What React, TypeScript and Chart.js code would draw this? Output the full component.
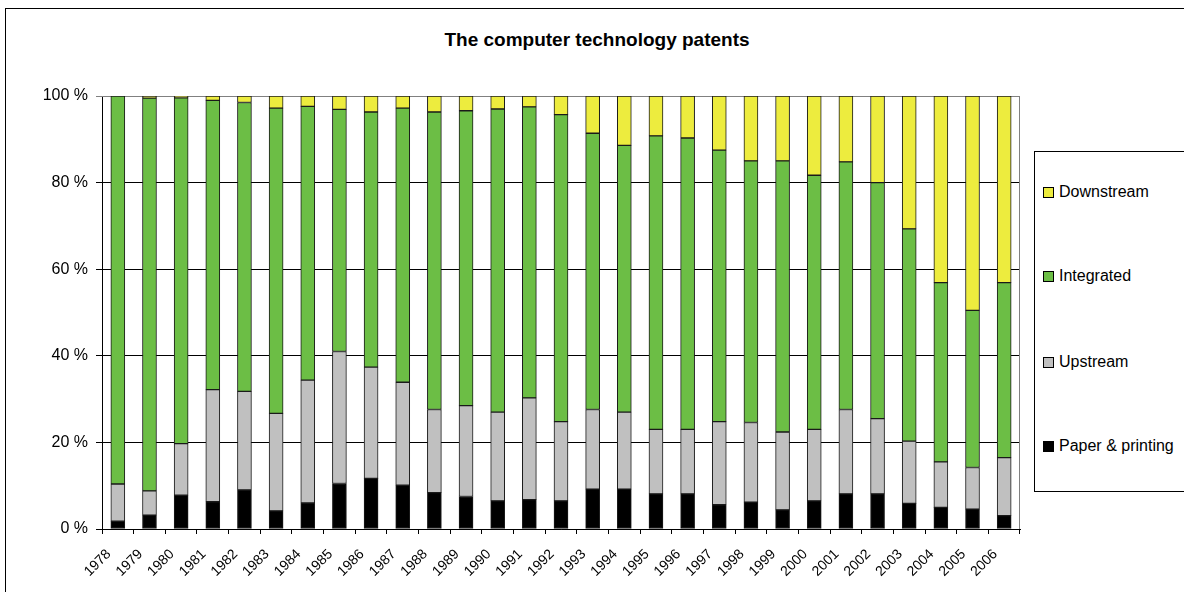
import React, { useEffect, useRef } from "react";
import { Chart, registerables } from "chart.js";

Chart.register(...registerables);

const years = [
  "1978", "1979", "1980", "1981", "1982", "1983", "1984", "1985", "1986", "1987",
  "1988", "1989", "1990", "1991", "1992", "1993", "1994", "1995", "1996", "1997",
  "1998", "1999", "2000", "2001", "2002", "2003", "2004", "2005", "2006",
];

const paperPrinting = [
  1.8, 3.2, 7.8, 6.3, 9.0, 4.2, 6.0, 10.5, 11.7, 10.1,
  8.4, 7.5, 6.5, 6.8, 6.5, 9.2, 9.2, 8.1, 8.1, 5.6,
  6.2, 4.4, 6.5, 8.1, 8.1, 5.9, 5.0, 4.6, 3.1,
];

const upstream = [
  8.6, 5.6, 11.9, 25.9, 22.8, 22.5, 28.4, 30.5, 25.7, 23.8,
  19.2, 21.0, 20.5, 23.5, 18.3, 18.4, 17.8, 14.9, 14.9, 19.2,
  18.4, 18.0, 16.5, 19.5, 17.4, 14.4, 10.5, 9.6, 13.4,
];

const integrated = [
  89.6, 90.7, 79.9, 66.8, 66.7, 70.5, 63.2, 55.9, 58.9, 63.3,
  68.7, 68.1, 70.0, 67.2, 70.9, 63.8, 61.6, 67.8, 67.3, 62.7,
  60.4, 62.6, 58.7, 57.2, 54.5, 49.0, 41.4, 36.3, 40.4,
];

const downstream = [
  0, 0.5, 0.4, 1.0, 1.5, 2.8, 2.4, 3.1, 3.7, 2.8,
  3.7, 3.4, 3.0, 2.5, 4.3, 8.6, 11.4, 9.2, 9.7, 12.5,
  15.0, 15.0, 18.3, 15.2, 20.0, 30.7, 43.1, 49.5, 43.1,
];

const yTicks = [0, 20, 40, 60, 80, 100];

const COLORS = {
  paper: "#000000",
  upstream: "#C0C0C0",
  integrated: "#6CBE45",
  downstream: "#EDEC3E",
};

const FONT = "'Liberation Sans', Arial, sans-serif";

const legendItems = [
  { label: "Downstream", color: COLORS.downstream, top: 192 },
  { label: "Integrated", color: COLORS.integrated, top: 276 },
  { label: "Upstream", color: COLORS.upstream, top: 362 },
  { label: "Paper & printing", color: COLORS.paper, top: 446 },
];

const plotBorder = {
  id: "plotBorder",
  beforeDatasetsDraw(chart: any) {
    const { ctx, chartArea } = chart;
    ctx.save();
    ctx.strokeStyle = "#808080";
    ctx.lineWidth = 1;
    ctx.beginPath();
    ctx.moveTo(chartArea.left, chartArea.top + 0.5);
    ctx.lineTo(chartArea.right - 0.5, chartArea.top + 0.5);
    ctx.lineTo(chartArea.right - 0.5, chartArea.bottom);
    ctx.stroke();
    ctx.restore();
  },
};

export default function App() {
  const canvasRef = useRef<HTMLCanvasElement | null>(null);

  useEffect(() => {
    if (!canvasRef.current) return;
    const mk = (label: string, data: number[], color: string) => ({
      label,
      data,
      backgroundColor: color,
      borderColor: "#1a1a1a",
      borderWidth: 1,
      borderSkipped: false,
      barThickness: 14,
    });
    const chart = new Chart(canvasRef.current, {
      type: "bar",
      data: {
        labels: years,
        datasets: [
          mk("Paper & printing", paperPrinting, COLORS.paper),
          mk("Upstream", upstream, COLORS.upstream),
          mk("Integrated", integrated, COLORS.integrated),
          mk("Downstream", downstream, COLORS.downstream),
        ],
      },
      options: {
        animation: false,
        responsive: true,
        maintainAspectRatio: false,
        layout: { padding: { left: 0, right: 10, top: 96, bottom: 0 } },
        plugins: {
          legend: { display: false },
          tooltip: { enabled: false },
          title: { display: false },
        },
        scales: {
          x: {
            stacked: true,
            afterFit: (scale: any) => {
              scale.height = 63;
            },
            grid: {
              offset: true,
              drawOnChartArea: false,
              drawTicks: true,
              tickLength: 5,
              color: "#000",
            },
            border: { color: "#000", width: 1 },
            ticks: {
              color: "#000",
              font: { family: FONT, size: 14 },
              minRotation: 45,
              maxRotation: 45,
              autoSkip: false,
              padding: 12,
              labelOffset: -9,
            },
          },
          y: {
            stacked: true,
            min: 0,
            max: 100,
            afterFit: (scale: any) => {
              scale.width = 102;
            },
            afterBuildTicks: (scale: any) => {
              scale.ticks = yTicks.map((v) => ({ value: v }));
            },
            grid: {
              color: (ctx: any) => (ctx.tick && ctx.tick.value === 100 ? "#808080" : "#000"),
              tickLength: 6,
              drawTicks: true,
            },
            border: { color: "#000", width: 1 },
            ticks: {
              color: "#000",
              font: { family: FONT, size: 16 },
              padding: 8,
              callback: (v: any) => `${v} %`,
            },
          },
        },
      },
      plugins: [plotBorder],
    });
    return () => chart.destroy();
  }, []);

  return (
    <div
      style={{
        position: "fixed",
        left: 0,
        top: 0,
        width: 1184,
        height: 592,
        overflow: "hidden",
        background: "#fff",
        fontFamily: FONT,
      }}
    >
      <div
        style={{
          position: "absolute",
          left: 5,
          top: 8,
          width: 1300,
          height: 700,
          border: "1px solid #000",
          boxSizing: "border-box",
        }}
      />
      <div
        style={{
          position: "absolute",
          left: 0,
          top: 29,
          width: 1194,
          textAlign: "center",
          fontWeight: "bold",
          fontSize: 19,
          color: "#000",
        }}
      >
        The computer technology patents
      </div>
      <div style={{ position: "absolute", left: 0, top: 0, width: 1030, height: 592 }}>
        <canvas ref={canvasRef} />
      </div>
      <div
        style={{
          position: "absolute",
          left: 1034,
          top: 151,
          width: 300,
          height: 341,
          border: "1px solid #000",
          boxSizing: "border-box",
        }}
      />
      {legendItems.map((it) => (
        <div
          key={it.label}
          style={{
            position: "absolute",
            left: 1043,
            top: it.top - 10,
            height: 20,
            display: "flex",
            alignItems: "center",
            fontSize: 16,
            color: "#000",
            whiteSpace: "nowrap",
          }}
        >
          <span
            style={{
              display: "inline-block",
              width: 9,
              height: 9,
              background: it.color,
              border: "1px solid #000",
              marginRight: 5,
            }}
          />
          {it.label}
        </div>
      ))}
    </div>
  );
}
